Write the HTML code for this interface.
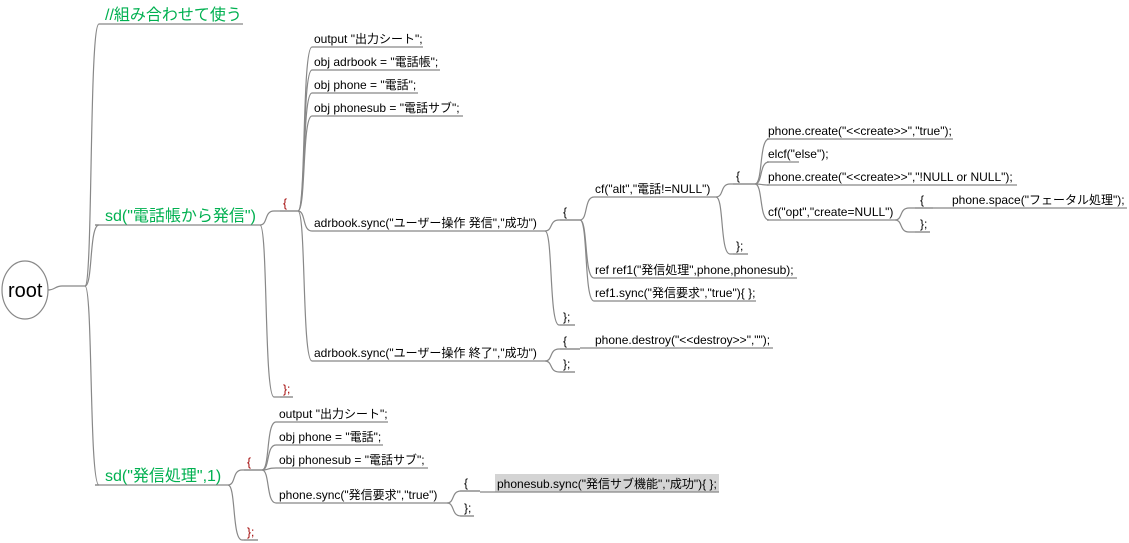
<!DOCTYPE html>
<html><head><meta charset="utf-8"><style>
html,body{margin:0;padding:0;background:#fff;width:1129px;height:543px;overflow:hidden}
svg text{font-family:"Liberation Sans","Noto Sans CJK JP",sans-serif}
</style></head><body>
<svg id="s" width="1129" height="543" xmlns="http://www.w3.org/2000/svg">
<rect x="495" y="474" width="224" height="18" fill="#d4d4d4"/>
<ellipse cx="25" cy="290" rx="23" ry="29" fill="#fff" stroke="#888" stroke-width="1.2"/>
<text x="8" y="297" font-size="20" fill="#000">root</text>
</svg>
<script>
var s=document.getElementById('s'),NS='http://www.w3.org/2000/svg';
function el(t,a,txt){var e=document.createElementNS(NS,t);for(var k in a)e.setAttribute(k,a[k]);if(txt!=null)e.textContent=txt;s.appendChild(e);return e;}
function ln(x1,x2,y){el('line',{x1:x1,y1:y,x2:x2,y2:y,stroke:'#888','stroke-width':1.2});}
function n(t,tx,x1,x2,y,c,sz){ln(x1,x2,y);el('text',{x:tx,y:y-4,'font-size':sz||12,fill:c||'#000'},t);}
function e(px,py,cx,cy){var m=px+6;el('path',{d:'M'+px+','+py+' C'+(m+2)+','+py+' '+(m-2)+','+cy+' '+(m+8)+','+cy+' L'+cx+','+cy,fill:'none',stroke:'#888','stroke-width':1.2});}
var G='#00b050',R='#a00000';
// root
el('path',{d:'M48,290 C55,290 55,286 62,286 L85,286',fill:'none',stroke:'#888','stroke-width':1.2});
e(85,286,100,24);e(85,286,95,225);e(85,286,95,485);
n('//組み合わせて使う',105,100,243,24,G,16);
n('sd("電話帳から発信")',105,95,260,225,G,16);
n('sd("発信処理",1)',105,95,228,485,G,16);
// sd1
e(260,225,298,211);e(260,225,293,397);
n('{',283,280,298,211,R);n('};',283,280,293,397,R);
var L1=[['output "出力シート";',423,47],['obj adrbook = "電話帳";',440,70],['obj phone = "電話";',418,93],['obj phonesub = "電話サブ";',463,116],['adrbook.sync("ユーザー操作 発信","成功")',545,231],['adrbook.sync("ユーザー操作 終了","成功")',545,361]];
L1.forEach(function(a){e(298,211,312,a[2]);n(a[0],314,312,a[1],a[2]);});
// sync1
e(545,231,580,220);e(545,231,575,325);
n('{',563,560,580,220);n('};',563,560,575,325);
e(580,220,595,197);e(580,220,595,278);e(580,220,595,301);
n('cf("alt","電話!=NULL")',595,595,716,197);
n('ref ref1("発信処理",phone,phonesub);',595,595,797,278);
n('ref1.sync("発信要求","true"){ };',595,595,756,301);
e(716,197,755,184);e(716,197,748,254);
n('{',736,733,755,184);n('};',736,733,748,254);
[['phone.create("<<create>>","true");',953,139],['elcf("else");',799,162],['phone.create("<<create>>","!NULL or NULL");',1017,185],['cf("opt","create=NULL")',895,220]].forEach(function(a){e(755,184,767,a[2]);n(a[0],768,767,a[1],a[2]);});
e(895,220,933,208);e(895,220,930,232);
n('{',920,915,933,208);n('};',920,915,930,232);
n('phone.space("フェータル処理");',952,933,1127,208);
// sync2
e(545,361,580,349);e(545,361,575,372);
n('{',563,560,580,349);n('};',563,560,575,372);
n('phone.destroy("<<destroy>>","");',595,580,773,348);
// sd2
e(228,485,262,470);e(228,485,258,540);
n('{',247,244,262,470,R);n('};',247,244,258,540,R);
[['output "出力シート";',388,422],['obj phone = "電話";',383,445],['obj phonesub = "電話サブ";',428,468],['phone.sync("発信要求","true")',447,503]].forEach(function(a){e(262,470,277,a[2]);n(a[0],279,277,a[1],a[2]);});
e(447,503,480,491);e(447,503,474,516);
n('{',464,460,480,491);n('};',464,460,474,516);
n('phonesub.sync("発信サブ機能","成功"){ };',497,480,719,492);
</script>
</body></html>
